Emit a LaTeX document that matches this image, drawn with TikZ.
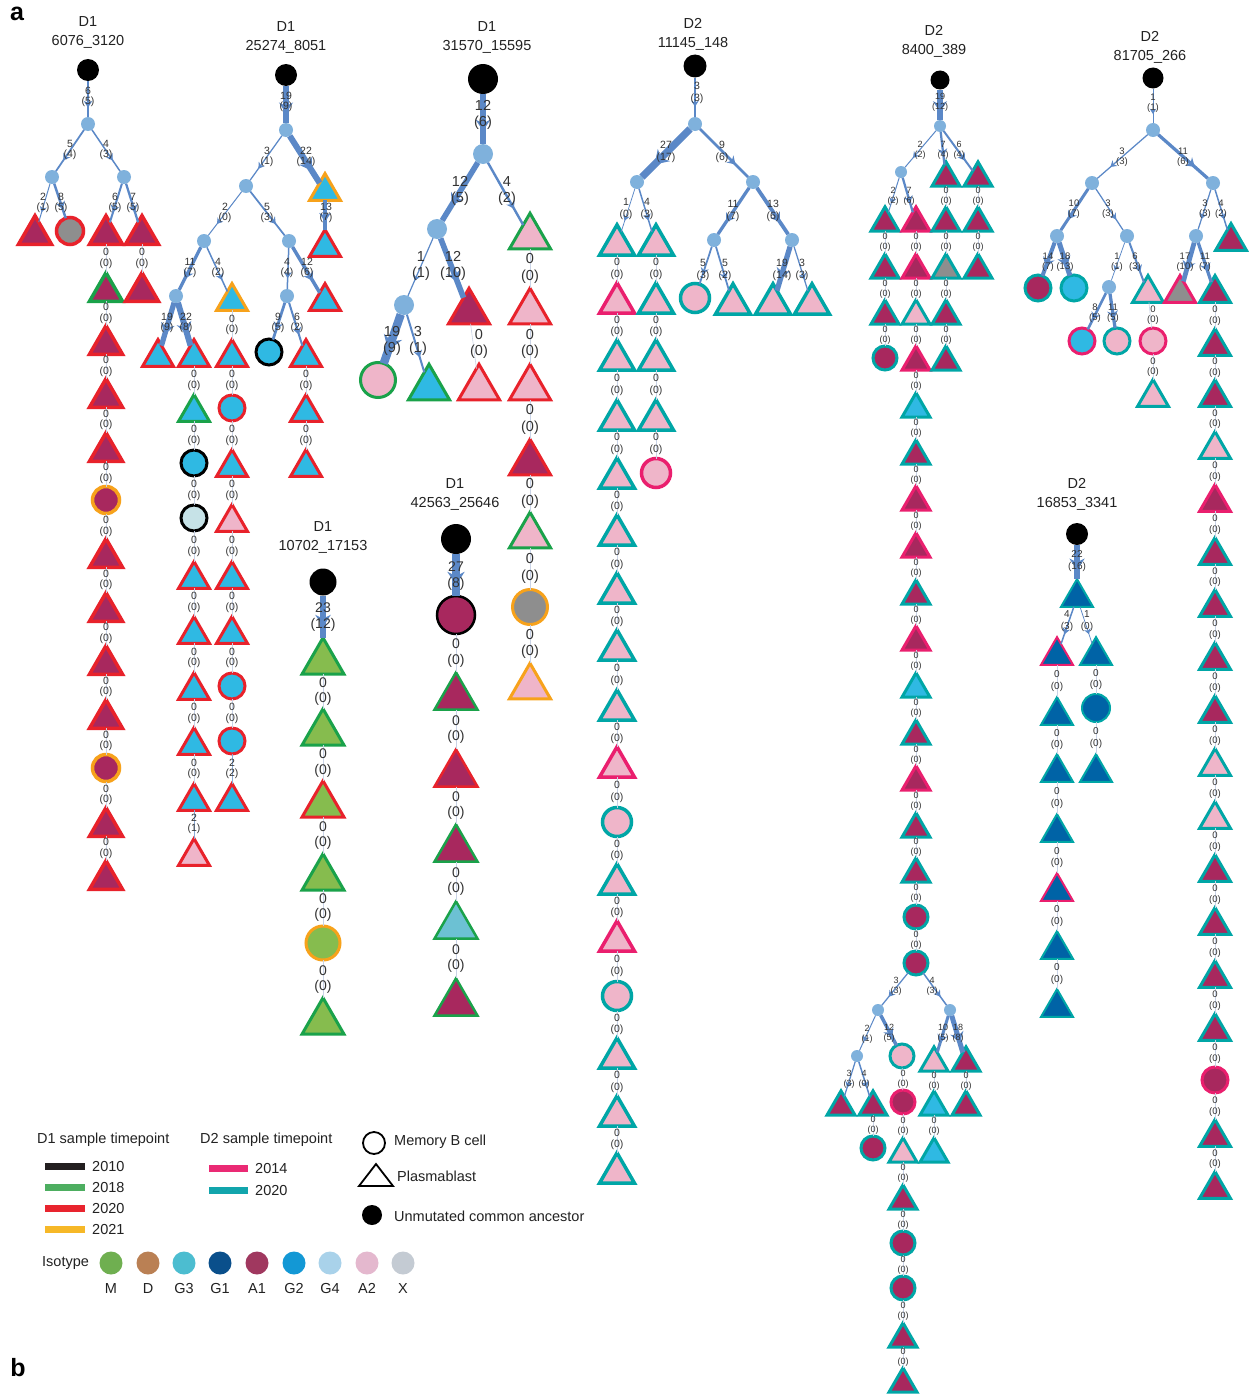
\documentclass[tikz,border=0pt]{standalone}
\usepackage{fontspec}
\setmainfont{Liberation Sans}
\usetikzlibrary{shapes.geometric,calc,decorations.markings,arrows.meta}
\definecolor{cA1}{HTML}{A8285E}
\definecolor{cG2}{HTML}{2FB9E3}
\definecolor{cA2}{HTML}{EFB5C9}
\definecolor{cX}{HTML}{8E8E8E}
\definecolor{cM}{HTML}{86BC4E}
\definecolor{cG3}{HTML}{6CC1D3}
\definecolor{cG1}{HTML}{0063A6}
\definecolor{cG4}{HTML}{C6E2E7}
\definecolor{cIn}{HTML}{7FB1DC}
\definecolor{eblue}{HTML}{5B88C7}
\definecolor{zgrey}{HTML}{C9D3E6}
\definecolor{b10}{HTML}{000000}
\definecolor{b18}{HTML}{1AA24A}
\definecolor{b20}{HTML}{E8222B}
\definecolor{b21}{HTML}{F7A21B}
\definecolor{b14}{HTML}{EA1F6E}
\definecolor{bt}{HTML}{00A6A6}
\definecolor{labc}{HTML}{333333}
\definecolor{titc}{HTML}{222222}
\definecolor{lM}{HTML}{6FAF50}
\definecolor{lD}{HTML}{BA8054}
\definecolor{lG3}{HTML}{4CBDD0}
\definecolor{lG1}{HTML}{0A4F8B}
\definecolor{lA1}{HTML}{A0385F}
\definecolor{lG2}{HTML}{1398D5}
\definecolor{lG4}{HTML}{A9D2EA}
\definecolor{lA2}{HTML}{E4B8CE}
\definecolor{lX}{HTML}{C4CBD3}
\definecolor{l10}{HTML}{231F20}
\definecolor{l18}{HTML}{4DAE60}
\definecolor{l20}{HTML}{E8242E}
\definecolor{l21}{HTML}{F6B828}
\definecolor{l14}{HTML}{EA2A74}
\definecolor{lt}{HTML}{12A5AC}
\def\tw{33}\def\bw{3}\def\cd{27}\def\id{14}\def\lf{10.5}\def\lfb{10.5}\def\ew{1}
\tikzset{
 tri/.style={regular polygon, regular polygon sides=3, inner sep=0pt, outer sep=0pt,
   minimum size={1.1547*\tw*1pt}, yshift={-0.1443*\tw*1pt}, line width=\bw pt},
 cir/.style={circle, inner sep=0pt, outer sep=0pt, minimum size=\cd pt, line width=\bw pt},
 inn/.style={circle, fill=cIn, inner sep=0pt, outer sep=0pt, minimum size=\id pt},
 ucan/.style={circle, fill=black, inner sep=0pt, outer sep=0pt, minimum size=#1pt},
 lbl/.style={font=\fontsize{\lf}{\lfb}\selectfont, align=center, inner sep=0pt, text=labc},
 ttl/.style={font=\fontsize{14.5}{19}\selectfont, align=center, inner sep=0pt, text=titc},
 leg/.style={font=\fontsize{14.5}{16}\selectfont, inner sep=0pt, text=titc, anchor=west},
 zline/.style={draw=zgrey, line width=0.6pt},
 bedge/.style={draw=eblue, line width=#1pt, postaction={decorate},
   decoration={markings, mark=at position 0.74 with {\arrow{Stealth[length=4.5pt 1.2, width=5.5pt 1.6]}}}},
 sw/.style={line width=7pt}
}
\newcommand\te[5]{\pgfmathsetmacro\lw{\ew*(0.5+0.25*#3)}\draw[bedge=\lw] (#1) -- (#2); \node[lbl] at (#5) {#3\\(#4)};}
\newcommand\chain[5]{%
 \foreach \yy/\ss/\ff/\bb [count=\i, remember=\yy as \py (initially #4), remember=\i as \j (initially 0)] in {#5} {%
   \edef\tmp{\noexpand\node[\ss, fill=\ff, draw=\bb] (#2\i) at (#3,\yy) {};}\tmp
   \ifnum\i=1 \def\prv{#1}\else\edef\prv{#2\j}\fi
   \draw[zline] (\prv) -- (#2\i);
   \node[lbl] at (#3,{(\py+\yy)/2}) {0\\(0)};
 }}
\begin{document}
\begin{tikzpicture}[x=1pt,y=-1pt]
\fill[white] (0,0) rectangle (1249,1397);
\useasboundingbox (0,0) rectangle (1249,1397);
\node[font=\fontsize{25}{25}\selectfont\bfseries, inner sep=0pt] (pa) at (17,14) {a};
\node[font=\fontsize{25}{25}\selectfont\bfseries, inner sep=0pt] (pb) at (18,1368) {b};
% ---------- D1 6076_3120
\begin{scope}
\def\tw{33}\def\bw{3.5}\def\cd{27}\def\id{14}\def\lf{10.5}\def\lfb{10.5}\def\ew{1}
\node[ttl] (t1) at (88,32) {D1\\6076\_3120};
\node[ucan=22] (r1) at (88,70) {};
\node[inn] (a1) at (88,124) {};
\node[inn] (a2) at (52,177) {};
\node[inn] (a3) at (124,177) {};
\node[tri,fill=cA1,draw=b20] (a4) at (35,230) {};
\node[cir,fill=cX,draw=b20] (a5) at (70,231) {};
\node[tri,fill=cA1,draw=b20] (a6) at (106,230) {};
\node[tri,fill=cA1,draw=b20] (a7) at (142,230) {};
\te{r1}{a1}{6}{5}{88,97}
\te{a1}{a2}{5}{4}{70,150}
\te{a1}{a3}{4}{3}{106,150}
\te{a2}{a4}{2}{1}{43,203}
\te{a2}{a5}{8}{5}{61,203}
\te{a3}{a6}{6}{5}{115,203}
\te{a3}{a7}{7}{5}{133,203}
\chain{a6}{ka}{106}{230}{287/tri/cA1/b18, 340/tri/cA1/b20, 393/tri/cA1/b20, 447/tri/cA1/b20, 500/cir/cA1/b21, 553/tri/cA1/b20, 607/tri/cA1/b20, 660/tri/cA1/b20, 714/tri/cA1/b20, 768/cir/cA1/b21, 822/tri/cA1/b20, 875/tri/cA1/b20}
\chain{a7}{kb}{142}{230}{287/tri/cA1/b20}
\end{scope}
% ---------- D1 25274_8051
\begin{scope}
\def\tw{31}\def\bw{3}\def\cd{26}\def\id{14}\def\lf{10.5}\def\lfb{10.5}\def\ew{1}
\node[ttl] (t2) at (286,37) {D1\\25274\_8051};
\node[ucan=22] (r2) at (286,75) {};
\node[inn] (b1) at (286,130) {};
\node[inn] (b2) at (246,186) {};
\node[tri,fill=cG2,draw=b21] (b3) at (325,187) {};
\node[tri,fill=cG2,draw=b20] (b3a) at (325,243) {};
\node[inn] (b4) at (204,241) {};
\node[inn] (b5) at (289,241) {};
\node[inn] (b6) at (176,296) {};
\node[tri,fill=cG2,draw=b21] (b8) at (232,297) {};
\node[inn] (b7) at (287,296) {};
\node[tri,fill=cG2,draw=b20] (b9) at (325,297) {};
\node[tri,fill=cG2,draw=b20] (b10) at (158,353) {};
\node[tri,fill=cG2,draw=b20] (b11) at (194,353) {};
\node[cir,fill=cG2,draw=b10] (b12) at (269,352) {};
\node[tri,fill=cG2,draw=b20] (b13) at (306,353) {};
\te{r2}{b1}{19}{9}{286,102}
\te{b1}{b2}{3}{1}{267,157}
\te{b1}{b3}{22}{14}{306,157}
\te{b3}{b3a}{13}{7}{326,213}
\te{b2}{b4}{2}{0}{225,213}
\te{b2}{b5}{5}{3}{267,213}
\te{b4}{b6}{11}{7}{190,268}
\te{b4}{b8}{4}{2}{218,268}
\te{b5}{b7}{4}{4}{287,268}
\te{b5}{b9}{12}{6}{307,268}
\te{b6}{b10}{19}{9}{167,323}
\te{b6}{b11}{22}{8}{186,323}
\te{b7}{b12}{9}{5}{278,323}
\te{b7}{b13}{6}{2}{297,323}
\chain{b8}{kc}{232}{297}{353/tri/cG2/b20, 408/cir/cG2/b20, 463/tri/cG2/b20, 518/tri/cA2/b20, 575/tri/cG2/b20, 630/tri/cG2/b20, 686/cir/cG2/b20, 741/cir/cG2/b20}
\node[tri,fill=cG2,draw=b20] (kc9) at (232,797) {};
\draw[draw=eblue!70, line width=0.8pt] (kc8) -- (kc9);
\node[lbl] at (232,769) {2\\(2)};
\chain{b11}{kd}{194}{353}{408/tri/cG2/b18, 463/cir/cG2/b10, 518/cir/cG4/b10, 575/tri/cG2/b20, 630/tri/cG2/b20, 686/tri/cG2/b20, 741/tri/cG2/b20, 797/tri/cG2/b20}
\node[tri,fill=cA2,draw=b20] (kd9) at (194,852) {};
\draw[draw=eblue!70, line width=0.8pt] (kd8) -- (kd9);
\node[lbl] at (194,824) {2\\(1)};
\chain{b13}{ke}{306}{353}{408/tri/cG2/b20, 463/tri/cG2/b20}
\end{scope}
% ---------- D1 31570_15595
\begin{scope}
\def\tw{41}\def\bw{3}\def\cd{35}\def\id{20}\def\lf{14.5}\def\lfb{16.5}\def\ew{1.6}
\node[ttl] (t3) at (487,37) {D1\\31570\_15595};
\node[ucan=30] (r3) at (483,79) {};
\node[inn] (c1) at (483,154) {};
\node[inn] (c2) at (437,229) {};
\node[tri,fill=cA2,draw=b18] (c4) at (530,231) {};
\node[inn] (c3) at (404,305) {};
\node[tri,fill=cA1,draw=b20] (c5) at (469,306) {};
\node[cir,fill=cA2,draw=b18] (c6) at (378,380) {};
\node[tri,fill=cG2,draw=b18] (c7) at (429,382) {};
\te{r3}{c1}{12}{6}{483,115}
\te{c1}{c2}{12}{5}{460,191}
\te{c1}{c4}{4}{2}{507,191}
\te{c2}{c3}{1}{1}{421,266}
\te{c2}{c5}{12}{10}{453,266}
\te{c3}{c6}{19}{9}{392,341}
\te{c3}{c7}{3}{1}{418,341}
\chain{c5}{kf}{479}{306}{382/tri/cA2/b20}
\def\ew{1}
\chain{c4}{kg}{530}{231}{306/tri/cA2/b20, 382/tri/cA2/b20, 457/tri/cA1/b20, 530/tri/cA2/b18, 607/cir/cX/b21, 681/tri/cA2/b21}
\end{scope}
% ---------- D1 10702_17153
\begin{scope}
\def\tw{42}\def\bw{3}\def\cd{34}\def\lf{14}\def\lfb{15.5}\def\ew{1}
\node[ttl] (t4) at (323,537) {D1\\10702\_17153};
\node[ucan=27] (r4) at (323,582) {};
\node[tri,fill=cM,draw=b18] (m1) at (323,656) {};
\te{r4}{m1}{23}{12}{323,617}
\chain{m1}{kh}{323}{656}{727/tri/cM/b18, 799/tri/cM/b20, 872/tri/cM/b18, 943/cir/cM/b21, 1016/tri/cM/b18}
\end{scope}
% ---------- D1 42563_25646
\begin{scope}
\def\tw{43}\def\bw{2.5}\def\cd{38}\def\lf{14}\def\lfb{15.5}\def\ew{1}
\node[ttl] (t5) at (455,494) {D1\\42563\_25646};
\node[ucan=30] (r5) at (456,539) {};
\node[cir,fill=cA1,draw=b10] (q1) at (456,615) {};
\te{r5}{q1}{27}{8}{456,576}
\chain{q1}{ki}{456}{615}{691/tri/cA1/b18, 768/tri/cA1/b20, 843/tri/cA1/b18, 920/tri/cG3/b18, 997/tri/cA1/b18}
\end{scope}
% ---------- D2 11145_148
\begin{scope}
\def\tw{35}\def\bw{3.5}\def\cd{29}\def\id{14}\def\lf{10.5}\def\lfb{11.5}\def\ew{1}
\node[ttl] (t6) at (693,34) {D2\\11145\_148};
\node[ucan=23] (r6) at (695,66) {};
\node[inn] (d1) at (695,124) {};
\node[inn] (d2) at (637,182) {};
\node[inn] (d3) at (753,182) {};
\node[tri,fill=cA2,draw=bt] (d6) at (617,240) {};
\node[tri,fill=cA2,draw=bt] (d7) at (656,240) {};
\node[inn] (d4) at (714,240) {};
\node[inn] (d5) at (792,240) {};
\node[cir,fill=cA2,draw=bt] (d8) at (695,298) {};
\node[tri,fill=cA2,draw=bt] (d9) at (733,299) {};
\node[tri,fill=cA2,draw=bt] (d10) at (773,299) {};
\node[tri,fill=cA2,draw=bt] (d11) at (812,299) {};
\te{r6}{d1}{3}{3}{697,93}
\te{d1}{d2}{27}{17}{666,152}
\te{d1}{d3}{9}{6}{722,152}
\te{d2}{d6}{1}{0}{626,209}
\te{d2}{d7}{4}{3}{647,209}
\te{d3}{d4}{11}{7}{733,211}
\te{d3}{d5}{13}{6}{773,211}
\te{d4}{d8}{5}{3}{703,270}
\te{d4}{d9}{5}{2}{725,270}
\te{d5}{d10}{19}{14}{782,270}
\te{d5}{d11}{3}{3}{802,270}
\chain{d6}{kj}{617}{240}{298/tri/cA2/b14, 355/tri/cA2/bt, 415/tri/cA2/bt, 473/tri/cA2/bt, 530/tri/cA2/bt, 588/tri/cA2/bt, 645/tri/cA2/bt, 705/tri/cA2/bt, 762/tri/cA2/b14, 822/cir/cA2/bt, 879/tri/cA2/bt, 936/tri/cA2/b14, 996/cir/cA2/bt, 1053/tri/cA2/bt, 1111/tri/cA2/bt, 1168/tri/cA2/bt}
\chain{d7}{kk}{656}{240}{298/tri/cA2/bt, 355/tri/cA2/bt, 415/tri/cA2/bt, 473/cir/cA2/b14}
\end{scope}
% ---------- D2 8400_389
\begin{scope}
\def\tw{28}\def\bw{3}\def\cd{24}\def\id{12}\def\lf{9}\def\lfb{10}\def\ew{1}
\node[ttl] (t7) at (934,41) {D2\\8400\_389};
\node[ucan=19] (r7) at (940,80) {};
\node[inn] (e1) at (940,126) {};
\node[inn] (e2) at (901,172) {};
\node[tri,fill=cA1,draw=bt] (e3) at (946,174) {};
\node[tri,fill=cA1,draw=bt] (e4) at (978,174) {};
\node[tri,fill=cA1,draw=bt] (e5) at (885,219) {};
\node[tri,fill=cA1,draw=b14] (e6) at (916,219) {};
\te{r7}{e1}{19}{12}{940,102}
\te{e1}{e2}{2}{2}{920,150}
\te{e1}{e3}{7}{4}{943,150}
\te{e1}{e4}{6}{4}{959,150}
\te{e2}{e5}{2}{2}{893,196}
\te{e2}{e6}{7}{6}{909,196}
\chain{e5}{kl}{885}{219}{266/tri/cA1/bt, 312/tri/cA1/bt, 358/cir/cA1/bt}
\chain{e6}{km}{916}{219}{266/tri/cA1/b14, 312/tri/cA2/bt, 358/tri/cA1/b14, 405/tri/cG2/bt, 452/tri/cA1/bt, 498/tri/cA1/b14, 545/tri/cA1/b14, 592/tri/cA1/bt, 638/tri/cA1/b14, 685/tri/cG2/bt, 732/tri/cA1/bt, 778/tri/cA1/b14, 825/tri/cA1/bt, 870/tri/cA1/bt, 917/cir/cA1/bt, 963/cir/cA1/bt}
\chain{e3}{kn}{946}{174}{219/tri/cA1/bt, 266/tri/cX/bt, 312/tri/cA1/bt, 358/tri/cA1/bt}
\chain{e4}{ko}{978}{174}{219/tri/cA1/bt, 266/tri/cA1/bt}
\node[inn] (f1) at (878,1010) {};
\node[inn] (f2) at (950,1010) {};
\node[inn] (f3) at (857,1056) {};
\node[cir,fill=cA2,draw=bt] (f4) at (902,1056) {};
\node[tri,fill=cA2,draw=bt] (f5) at (934,1059) {};
\node[tri,fill=cA1,draw=bt] (f6) at (966,1059) {};
\node[tri,fill=cA1,draw=bt] (f7) at (841,1103) {};
\node[tri,fill=cA1,draw=bt] (f8) at (873,1103) {};
\te{km16}{f1}{3}{3}{896,986}
\te{km16}{f2}{4}{3}{932,986}
\te{f1}{f3}{2}{1}{867,1034}
\te{f1}{f4}{12}{5}{889,1033}
\te{f2}{f5}{10}{5}{943,1033}
\te{f2}{f6}{18}{8}{958,1033}
\te{f3}{f7}{3}{3}{849,1079}
\te{f3}{f8}{4}{0}{864,1079}
\chain{f8}{kp}{873}{1103}{1148/cir/cA1/bt}
\chain{f4}{kq}{903}{1056}{1102/cir/cA1/b14, 1150/tri/cA2/bt, 1197/tri/cA1/bt, 1243/cir/cA1/bt, 1288/cir/cA1/bt, 1335/tri/cA1/bt, 1380/tri/cA1/bt}
\chain{f5}{kr}{934}{1059}{1103/tri/cG2/bt, 1150/tri/cG2/bt}
\chain{f6}{ks}{966}{1059}{1103/tri/cA1/bt}
\end{scope}
% ---------- D2 81705_266
\begin{scope}
\def\tw{31}\def\bw{3}\def\cd{26}\def\id{14}\def\lf{9.5}\def\lfb{10.5}\def\ew{1}
\node[ttl] (t8) at (1150,47) {D2\\81705\_266};
\node[ucan=21] (r8) at (1153,78) {};
\node[inn] (g1) at (1153,130) {};
\node[inn] (g2) at (1092,183) {};
\node[inn] (g3) at (1213,183) {};
\node[inn] (g4) at (1057,236) {};
\node[inn] (g5) at (1127,236) {};
\node[inn] (g6) at (1196,236) {};
\node[tri,fill=cA1,draw=bt] (g8) at (1231,237) {};
\node[cir,fill=cA1,draw=bt] (g9) at (1038,288) {};
\node[cir,fill=cG2,draw=bt] (g10) at (1074,288) {};
\node[inn] (g7) at (1109,287) {};
\node[tri,fill=cA2,draw=bt] (g11) at (1148,289) {};
\node[tri,fill=cX,draw=b14] (g12) at (1180,289) {};
\node[tri,fill=cA1,draw=bt] (g13) at (1215,289) {};
\node[cir,fill=cG2,draw=b14] (g14) at (1082,341) {};
\node[cir,fill=cA2,draw=bt] (g15) at (1117,341) {};
\te{r8}{g1}{1}{1}{1153,103}
\te{g1}{g2}{3}{3}{1122,157}
\te{g1}{g3}{11}{6}{1183,157}
\te{g2}{g4}{10}{7}{1074,209}
\te{g2}{g5}{3}{3}{1108,209}
\te{g3}{g6}{3}{3}{1205,209}
\te{g3}{g8}{4}{2}{1221,209}
\te{g4}{g9}{14}{7}{1048,262}
\te{g4}{g10}{18}{13}{1065,262}
\te{g5}{g7}{1}{1}{1117,262}
\te{g5}{g11}{6}{3}{1135,262}
\te{g6}{g12}{17}{10}{1185,262}
\te{g6}{g13}{11}{7}{1205,262}
\te{g7}{g14}{8}{5}{1095,313}
\te{g7}{g15}{11}{5}{1113,313}
\chain{g11}{kt}{1153}{289}{341/cir/cA2/b14, 393/tri/cA2/bt}
\chain{g13}{ku}{1215}{289}{342/tri/cA1/bt, 393/tri/cA1/bt, 445/tri/cA2/bt, 498/tri/cA1/b14, 551/tri/cA1/bt, 603/tri/cA1/bt, 656/tri/cA1/bt, 709/tri/cA1/bt, 762/tri/cA2/bt, 815/tri/cA2/bt, 868/tri/cA1/bt, 921/tri/cA1/bt, 974/tri/cA1/bt, 1027/tri/cA1/bt, 1080/cir/cA1/b14, 1133/tri/cA1/bt, 1185/tri/cA1/bt}
\end{scope}
% ---------- D2 16853_3341
\begin{scope}
\def\tw{32}\def\bw{2}\def\cd{28}\def\lf{10}\def\lfb{11.5}\def\ew{1}
\node[ttl] (t9) at (1077,494) {D2\\16853\_3341};
\node[ucan=22] (r9) at (1077,534) {};
\node[tri,fill=cG1,draw=bt] (h1) at (1077,593) {};
\node[tri,fill=cG1,draw=b14] (h2) at (1057,651) {};
\node[tri,fill=cG1,draw=bt] (h3) at (1096,651) {};
\te{r9}{h1}{22}{16}{1077,561}
\te{h1}{h2}{4}{3}{1067,621}
\te{h1}{h3}{1}{0}{1087,621}
\chain{h2}{kv}{1057}{651}{711/tri/cG1/bt, 768/tri/cG1/bt, 828/tri/cG1/bt, 887/tri/cG1/b14, 945/tri/cG1/bt, 1003/tri/cG1/bt}
\chain{h3}{kw}{1096}{651}{708/cir/cG1/bt, 768/tri/cG1/bt}
\end{scope}
% ---------- legend
\node[leg] (lh1) at (37,1140) {D1 sample timepoint};
\node[leg] (lh2) at (200,1140) {D2 sample timepoint};
\draw[sw, draw=l10] (45,1166) -- (85,1166); \node[leg] (y1) at (92,1166) {2010};
\draw[sw, draw=l18] (45,1187) -- (85,1187); \node[leg] (y2) at (92,1187) {2018};
\draw[sw, draw=l20] (45,1208) -- (85,1208); \node[leg] (y3) at (92,1208) {2020};
\draw[sw, draw=l21] (45,1229) -- (85,1229); \node[leg] (y4) at (92,1229) {2021};
\draw[sw, draw=l14] (209,1168) -- (248,1168); \node[leg] (y5) at (255,1168) {2014};
\draw[sw, draw=lt] (209,1190) -- (248,1190); \node[leg] (y6) at (255,1190) {2020};
\draw[line width=1.8pt] (374,1143) circle (11);
\node[leg] (lm) at (394,1142) {Memory B cell};
\draw[line width=1.8pt, line join=miter] (359,1186) -- (393,1186) -- (376,1164) -- cycle;
\node[leg] (lp) at (397,1176) {Plasmablast};
\fill[black] (372,1215) circle (10);
\node[leg] (lu) at (394,1216) {Unmutated common ancestor};
\node[leg] (li) at (42,1263) {Isotype};
\foreach \xx/\cc/\tt in {111/lM/M, 148/lD/D, 184/lG3/G3, 220/lG1/G1, 257/lA1/A1, 294/lG2/G2, 330/lG4/G4, 367/lA2/A2, 403/lX/X} {
  \fill[\cc] (\xx,1263) circle (11.5);
  \node[font=\fontsize{14.5}{16}\selectfont, inner sep=0pt, text=titc] at (\xx,1288) {\tt};
}
\end{tikzpicture}
\end{document}
